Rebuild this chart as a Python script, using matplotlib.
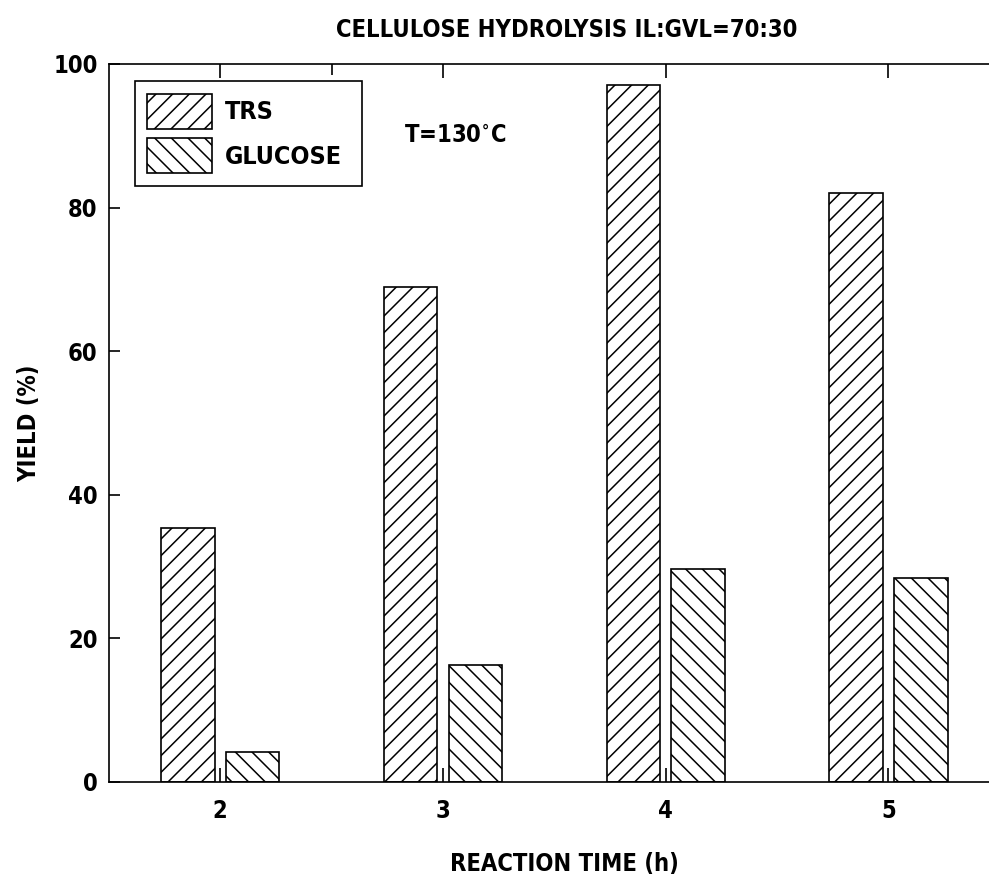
import numpy as np
import matplotlib
matplotlib.use("Agg")
import matplotlib.pyplot as plt
from matplotlib.ticker import FixedLocator

# Data
times = [2, 3, 4, 5]
trs = [35.4, 68.9, 97.1, 82.0]
glucose = [4.2, 16.3, 29.7, 28.4]

plt.rcParams['font.family'] = ['DejaVu Sans']
plt.rcParams['font.stretch'] = 'condensed'
plt.rcParams['font.weight'] = 'bold'
plt.rcParams['axes.labelweight'] = 'bold'
plt.rcParams['hatch.linewidth'] = 1.1
plt.rcParams['hatch.color'] = 'black'

fs = 17

fig = plt.figure(figsize=(9.89, 8.86), dpi=100)
ax = fig.add_axes([0.110, 0.1174, 0.901, 0.8104])

x = np.array(times, dtype=float)
w = 0.24
off = 0.145
ax.bar(x - off, trs, w, facecolor='white', edgecolor='black', linewidth=1.2,
       hatch='//', label='TRS')
ax.bar(x + off, glucose, w, facecolor='white', edgecolor='black', linewidth=1.2,
       hatch='\\\\', label='GLUCOSE')

ax.set_xlim(1.5, 5.5)
ax.set_ylim(0, 100)
ax.set_xticks(times)
ax.xaxis.set_minor_locator(FixedLocator([2.5]))
ax.set_yticks([0, 20, 40, 60, 80, 100])
ax.tick_params(axis='both', direction='in', labelsize=fs, width=1.2)
ax.tick_params(axis='x', length=10, pad=12, top=True)
ax.tick_params(axis='x', which='minor', length=8, width=1.2, direction='in',
               bottom=False, top=True)
ax.tick_params(axis='y', length=8, pad=8)
ax.spines['right'].set_visible(False)
for s in ['left', 'top', 'bottom']:
    ax.spines[s].set_linewidth(1.2)

ax.set_xlabel('REACTION TIME (h)', fontsize=fs)
ax.set_ylabel('YIELD (%)', fontsize=fs)
ax.xaxis.set_label_coords(0.511, -0.0975)
ax.yaxis.set_label_coords(-0.076, 0.5)
fig.text(0.573, 0.966, 'CELLULOSE HYDROLYSIS IL:GVL=70:30', fontsize=fs,
         ha='center', va='center')
ax.text(0.389, 0.901, 'T=130$^{\\circ}$C', transform=ax.transAxes, fontsize=fs,
        ha='center', va='center')

leg_fs = 18
leg = ax.legend(loc='upper left', bbox_to_anchor=(0.0292, 0.826, 0.2548, 0.15),
                mode='expand', fontsize=leg_fs,
                frameon=True, fancybox=False, edgecolor='black', framealpha=1,
                borderaxespad=0, handlelength=2.6, handleheight=1.8,
                borderpad=0.5, labelspacing=0.35, handletextpad=0.5)
leg.get_frame().set_linewidth(1.2)

fig.savefig('out.png', dpi=100)
